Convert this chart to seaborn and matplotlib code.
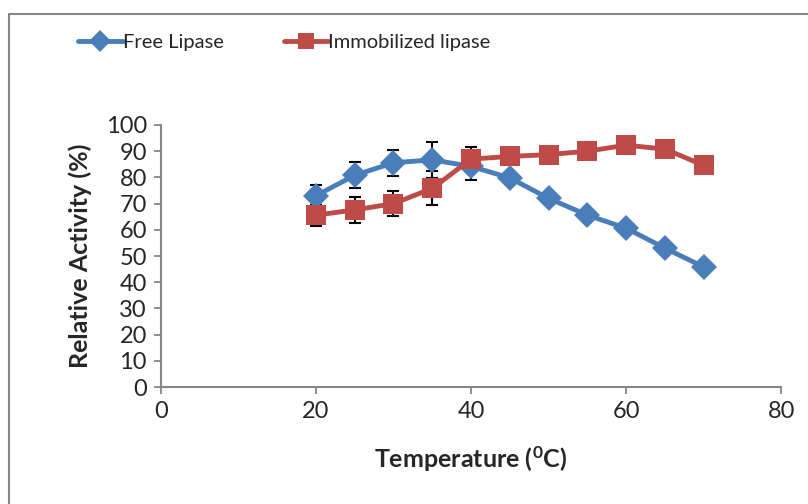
import seaborn as sns
import numpy as np
import pandas as pd
import matplotlib.pyplot as plt
from matplotlib.lines import Line2D

# data
temp = [20, 25, 30, 35, 40, 45, 50, 55, 60, 65, 70]
free_act = [73.0, 80.8, 85.6, 86.7, 84.2, 79.8, 72.0, 65.6, 60.6, 53.0, 45.8]
free_err = [4.0, 5.0, 5.0, 7.0, 5.0, 1.5, 1.5, 1.5, 1.5, 1.5, 1.5]
immo_act = [65.6, 67.6, 70.0, 75.8, 87.0, 88.0, 88.7, 90.0, 92.3, 90.8, 84.6]
immo_err = [4.0, 5.0, 4.7, 6.5, 4.5, 1.0, 1.0, 1.0, 1.0, 1.0, 1.0]

blue = '#4A7EBB'
red = '#BE4B48'

sns.set_style('white')
plt.rcParams['font.family'] = ['Lato', 'DejaVu Sans']

fig = plt.figure(figsize=(8.08, 5.04), dpi=100)
ax = fig.add_axes([0.199, 0.232, 0.768, 0.520])

df = pd.DataFrame({'temp': temp + temp,
                   'act': free_act + immo_act,
                   'kind': ['Free Lipase'] * len(temp) + ['Immobilized lipase'] * len(temp)})

# error bars under the lines
ax.errorbar(temp, free_act, yerr=free_err, fmt='none', ecolor='black',
            elinewidth=1.5, capsize=4.5, capthick=1.5, zorder=1)
ax.errorbar(temp, immo_act, yerr=immo_err, fmt='none', ecolor='black',
            elinewidth=1.5, capsize=4.5, capthick=1.5, zorder=1)

sns.lineplot(data=df, x='temp', y='act', hue='kind', style='kind',
             palette=[blue, red], markers=['D', 's'], dashes=False,
             linewidth=3.5, markersize=13, markeredgewidth=0,
             legend=False, ax=ax, zorder=2)
# squares are a bit larger than the diamonds
ax.lines[-1].set_markersize(14.5)

ax.set_xlim(0, 80)
ax.set_ylim(0, 100)
ax.set_xticks([0, 20, 40, 60, 80])
ax.set_yticks(range(0, 101, 10))
ax.tick_params(axis='both', labelsize=17, length=5, width=1.3,
               color='#868686', direction='out', bottom=True, left=True, pad=5)
ax.set_xlabel('Temperature ($\\mathregular{^0}$C)', fontsize=18, fontweight='bold', labelpad=16)
ax.set_ylabel('Relative Activity (%)', fontsize=18, fontweight='bold', labelpad=10)
for s in ['top', 'right']:
    ax.spines[s].set_visible(False)
for s in ['left', 'bottom']:
    ax.spines[s].set_color('#868686')
    ax.spines[s].set_linewidth(1.5)

handles = [Line2D([], [], color=blue, lw=3.5, marker='D', markersize=11, markeredgewidth=0),
           Line2D([], [], color=red, lw=3.5, marker='s', markersize=12, markeredgewidth=0)]
fig.legend(handles, ['Free Lipase', 'Immobilized lipase'], loc='center',
           bbox_to_anchor=(0.352, 0.915), ncol=2, frameon=False, fontsize=14.5,
           handlelength=2.2, handletextpad=0.0, columnspacing=3.0)

# outer chart frame (left and top edges visible)
fig.add_artist(Line2D([0.011, 0.011], [0, 0.972], color='#868686', lw=1.5))
fig.add_artist(Line2D([0.011, 1.0], [0.972, 0.972], color='#868686', lw=1.5))

fig.savefig('out.png', dpi=100, facecolor='white')
